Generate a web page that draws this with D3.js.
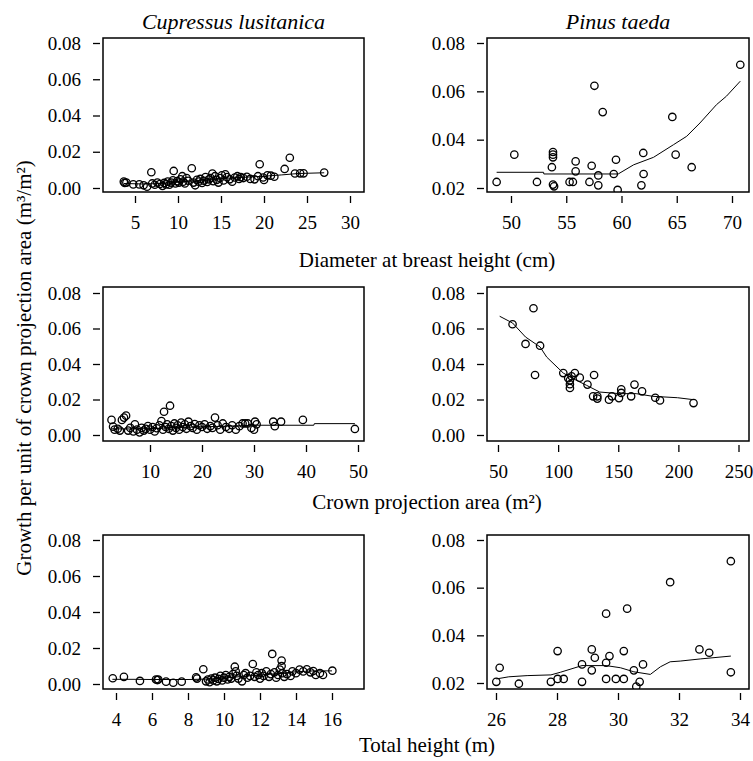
<!DOCTYPE html>
<html>
<head>
<meta charset="utf-8">
<title>Growth per unit of crown projection area</title>
<script src="https://d3js.org/d3.v7.min.js"></script>
<style>
    body { margin: 0; background: #fff; }
    text { font-family: "Liberation Serif", "Times New Roman", serif; fill: #000; }
</style>
</head>
<body>
<div id="chart"></div>
<script>
    // Cupressus lusitanica - DBH (cm)
    var cupDbhX = [3.7,3.8,4.0,4.8,5.5,6.0,6.4,6.9,7.0,7.3,7.6,7.9,8.2,8.4,8.6,8.8,9.0,9.2,9.4,9.5,9.7,9.9,10.1,10.3,10.5,10.6,10.8,11.0,11.2,11.6,11.8,12.0,12.2,12.4,12.6,12.8,13.0,13.2,13.4,13.6,13.8,14.0,14.1,14.3,14.5,14.7,14.9,15.1,15.3,15.5,15.7,16.0,16.3,16.6,16.9,17.1,17.3,17.6,18.0,18.4,18.9,19.3,19.5,19.9,20.0,20.4,20.8,21.2,22.4,23.0,23.6,24.2,24.6,27.0];
    var cupDbhY = [0.0035,0.0028,0.0030,0.0020,0.0020,0.0015,0.0007,0.0087,0.0025,0.0018,0.0030,0.0022,0.0012,0.0028,0.0020,0.0035,0.0018,0.0030,0.0042,0.0094,0.0025,0.0038,0.0030,0.0048,0.0065,0.0035,0.0025,0.0055,0.0040,0.0109,0.0030,0.0015,0.0045,0.0035,0.0050,0.0028,0.0040,0.0060,0.0033,0.0048,0.0055,0.0080,0.0038,0.0065,0.0045,0.0030,0.0055,0.0070,0.0042,0.0075,0.0060,0.0048,0.0035,0.0058,0.0065,0.0050,0.0060,0.0055,0.0062,0.0050,0.0048,0.0065,0.0131,0.0058,0.0044,0.0070,0.0068,0.0062,0.0105,0.0167,0.0080,0.0081,0.0081,0.0085];
    var cupDbhFitX = [3.7,6,8,10,12,14,16,18,20,22,24,27];
    var cupDbhFitY = [0.0025,0.0022,0.0025,0.0032,0.0040,0.0048,0.0055,0.0060,0.0065,0.0072,0.0080,0.0084];

    // Pinus taeda - DBH (cm)
    var pinDbhX = [48.7,50.3,52.35,53.8,53.8,53.8,53.7,53.8,53.9,55.3,55.6,55.85,55.85,57.3,57.55,57.1,57.9,57.9,58.3,59.5,59.3,59.65,61.97,62.0,61.8,64.6,64.9,66.35,70.75];
    var pinDbhY = [0.0225,0.0338,0.0225,0.0349,0.0338,0.0327,0.0286,0.0214,0.0207,0.0225,0.0225,0.0310,0.0269,0.0292,0.0623,0.0225,0.0252,0.0211,0.0514,0.0317,0.0258,0.0192,0.0345,0.0258,0.0211,0.0494,0.0338,0.0286,0.0710];
    var pinDbhFitX = [48.7,52.95,52.97,59.7,61.1,62.9,64.7,65.9,67.1,68.6,69.5,70.75];
    var pinDbhFitY = [0.0265,0.0265,0.0258,0.0258,0.0296,0.0327,0.0379,0.0414,0.0469,0.0545,0.0580,0.0642];

    // Cupressus lusitanica - crown projection area (m2)
    var cupCpaX = [2.6,2.9,3.2,3.8,4.2,4.6,5.0,5.4,5.8,6.2,6.8,7.1,7.5,8.0,8.4,8.8,9.2,9.6,10.0,10.5,10.9,11.3,11.8,12.2,12.5,12.7,13.0,13.3,13.6,13.85,14.1,14.4,14.7,15.0,15.3,15.6,16.0,16.3,16.7,17.0,17.4,17.8,18.2,18.6,19.0,19.5,20.0,20.5,21.0,21.6,22.0,22.5,23.0,23.5,24.0,24.6,25.2,25.8,26.5,27.2,27.8,28.3,28.8,29.5,30.0,30.2,30.5,33.7,34.0,35.2,39.4,49.4];
    var cupCpaY = [0.0085,0.0047,0.0030,0.0035,0.0025,0.0085,0.0098,0.0109,0.0025,0.0040,0.0020,0.0060,0.0030,0.0015,0.0040,0.0025,0.0035,0.0050,0.0030,0.0045,0.0020,0.0038,0.0055,0.0079,0.0030,0.0131,0.0045,0.0060,0.0035,0.0165,0.0050,0.0025,0.0065,0.0040,0.0055,0.0030,0.0070,0.0045,0.0060,0.0035,0.0075,0.0050,0.0040,0.0062,0.0030,0.0055,0.0045,0.0060,0.0035,0.0050,0.0040,0.0098,0.0055,0.0030,0.0065,0.0045,0.0035,0.0055,0.0030,0.0050,0.0065,0.0065,0.0065,0.0040,0.0030,0.0075,0.0060,0.0075,0.0050,0.0075,0.0085,0.0034];
    var cupCpaFitX = [2.6,6,10,15,20,25,30,35,41.5,41.6,49.4];
    var cupCpaFitY = [0.0035,0.0034,0.0036,0.0042,0.0046,0.0050,0.0055,0.0055,0.0055,0.0064,0.0064];

    // Pinus taeda - crown projection area (m2)
    var pinCpaX = [79.5,62.1,72.9,85,80.8,104.3,113.9,111.2,118,109.8,109.8,109.8,108.4,124.4,129.9,129.1,132.6,132.6,142.3,144.8,150.6,152.5,152.5,160.7,163.5,169.8,180.8,184.7,212.6];
    var pinCpaY = [0.0714,0.0624,0.0513,0.0503,0.0338,0.0349,0.0349,0.0331,0.0323,0.0308,0.0286,0.0265,0.0320,0.0284,0.0338,0.0218,0.0218,0.0205,0.0199,0.0218,0.0208,0.0237,0.0257,0.0218,0.0284,0.0246,0.0210,0.0195,0.0180];
    var pinCpaFitX = [51.4,62.1,72.9,85,90.5,104.3,112.6,123.6,134.6,151.1,164.9,178.7,199.3,212.6];
    var pinCpaFitY = [0.0669,0.0631,0.0552,0.0496,0.0439,0.0349,0.0317,0.0280,0.0242,0.0233,0.0233,0.0218,0.0210,0.0199];

    // Cupressus lusitanica - total height (m)
    var cupHtX = [3.82,4.44,5.33,6.22,6.3,6.35,6.78,7.18,7.65,8.45,8.5,8.85,9.0,9.1,9.2,9.3,9.4,9.5,9.6,9.7,9.8,9.9,10.0,10.1,10.2,10.3,10.4,10.5,10.6,10.65,10.7,10.8,11.0,11.1,11.2,11.3,11.45,11.6,11.7,11.8,11.9,12.0,12.1,12.2,12.35,12.5,12.6,12.68,12.8,12.9,13.0,13.1,13.2,13.2,13.25,13.35,13.5,13.7,13.8,14.0,14.2,14.4,14.6,14.8,14.96,15.1,15.33,15.5,16.02];
    var cupHtY = [0.0032,0.0040,0.0017,0.0025,0.0022,0.0025,0.0013,0.0007,0.0013,0.0037,0.0030,0.0082,0.0015,0.0025,0.0010,0.0030,0.0020,0.0035,0.0015,0.0028,0.0045,0.0020,0.0035,0.0050,0.0025,0.0040,0.0030,0.0055,0.0096,0.0070,0.0045,0.0030,0.0015,0.0050,0.0060,0.0035,0.0045,0.0111,0.0040,0.0065,0.0050,0.0030,0.0060,0.0045,0.0070,0.0040,0.0055,0.0167,0.0065,0.0035,0.0050,0.0080,0.0130,0.0100,0.0060,0.0040,0.0055,0.0045,0.0070,0.0060,0.0080,0.0070,0.0082,0.0065,0.0072,0.0050,0.0060,0.0050,0.0074];
    var cupHtFitX = [3.8,5,6,7,8,9,10,11,12,13,14,15,16];
    var cupHtFitY = [0.0026,0.0026,0.0025,0.0025,0.0025,0.0027,0.0033,0.0042,0.0050,0.0058,0.0068,0.0073,0.0073];

    // Pinus taeda - total height (m)
    var pinHtX = [26.01,26.12,26.75,27.8,28.02,28.02,28.22,28.82,28.82,29.14,29.24,29.14,29.61,29.72,29.61,29.61,29.93,30.19,30.3,30.19,30.52,30.82,30.71,30.6,31.71,32.67,32.99,33.7,33.7];
    var pinHtY = [0.0205,0.0264,0.0197,0.0205,0.0334,0.0217,0.0217,0.0205,0.0278,0.0341,0.0306,0.0253,0.0491,0.0313,0.0285,0.0217,0.0217,0.0217,0.0512,0.0334,0.0253,0.0278,0.0205,0.0185,0.0623,0.0341,0.0327,0.0711,0.0245];
    var pinHtFitX = [26.01,26.42,27.02,27.8,28.11,28.82,29.61,30.08,30.52,31.06,31.39,31.71,32.04,32.7,33.7];
    var pinHtFitY = [0.0217,0.0226,0.0231,0.0234,0.0245,0.0273,0.0273,0.0264,0.0247,0.0236,0.0268,0.0289,0.0292,0.0301,0.0313];

    var yTicksFull = [0, 0.02, 0.04, 0.06, 0.08];
    var yTicksPine = [0.02, 0.04, 0.06, 0.08];
    var dbhTicksCup = [5, 10, 15, 20, 25, 30];
    var dbhTicksPin = [50, 55, 60, 65, 70];
    var cpaTicksCup = [10, 20, 30, 40, 50];
    var cpaTicksPin = [50, 100, 150, 200, 250];
    var htTicksCup = [4, 6, 8, 10, 12, 14, 16];
    var htTicksPin = [26, 28, 30, 32, 34];

    var speciesTitles = ["Cupressus lusitanica", "Pinus taeda"];
    var rowTitles = ["Diameter at breast height (cm)", "Crown projection area (m\u00b2)", "Total height (m)"];
    var yTitle = "Growth per unit of crown projection area (m\u00b3/m\u00b2)";

    var width = 753, height = 761;
    var colX = [[103, 364], [487, 749]];
    var rowY = [[38, 192], [287, 441], [535, 689]];
    var rowTitleY = [267, 509, 752];
    var serif = "'Liberation Serif', 'Times New Roman', serif";
    var tickFont = "19px";

    // panel setup: x domain/range taken from the first/last tick positions
    var panels = [
        {r: 0, c: 0, x: cupDbhX, y: cupDbhY, fx: cupDbhFitX, fy: cupDbhFitY, xt: dbhTicksCup, yt: yTicksFull, xd: [5, 30], xr: [135, 350], yd: [0, 0.08], yr: [188, 43]},
        {r: 0, c: 1, x: pinDbhX, y: pinDbhY, fx: pinDbhFitX, fy: pinDbhFitY, xt: dbhTicksPin, yt: yTicksPine, xd: [50, 70], xr: [511, 732], yd: [0.02, 0.08], yr: [188, 43]},
        {r: 1, c: 0, x: cupCpaX, y: cupCpaY, fx: cupCpaFitX, fy: cupCpaFitY, xt: cpaTicksCup, yt: yTicksFull, xd: [10, 50], xr: [150, 358], yd: [0, 0.08], yr: [435, 293]},
        {r: 1, c: 1, x: pinCpaX, y: pinCpaY, fx: pinCpaFitX, fy: pinCpaFitY, xt: cpaTicksPin, yt: yTicksFull, xd: [50, 250], xr: [498, 738.5], yd: [0, 0.08], yr: [435, 293]},
        {r: 2, c: 0, x: cupHtX, y: cupHtY, fx: cupHtFitX, fy: cupHtFitY, xt: htTicksCup, yt: yTicksFull, xd: [4, 16], xr: [116, 332], yd: [0, 0.08], yr: [684, 540]},
        {r: 2, c: 1, x: pinHtX, y: pinHtY, fx: pinHtFitX, fy: pinHtFitY, xt: htTicksPin, yt: yTicksPine, xd: [26, 34], xr: [496, 740], yd: [0.02, 0.08], yr: [683, 540]}
    ];

    var svg = d3.select("#chart").append("svg")
        .attr("width", width)
        .attr("height", height);

    var defs = svg.append("defs");

    function styleAxis(a) {
        a.attr("font-family", serif).attr("font-size", 19);
        a.select(".domain").remove();
        a.selectAll("line").attr("stroke", "#000").attr("stroke-width", 1.3);
        a.selectAll("text").style("font-family", serif).style("font-size", tickFont).attr("fill", "#000");
    }

    panels.forEach(function(p, i) {
        var x0 = colX[p.c][0], x1 = colX[p.c][1];
        var y0 = rowY[p.r][0], y1 = rowY[p.r][1];
        var xs = d3.scaleLinear().domain(p.xd).range(p.xr);
        var ys = d3.scaleLinear().domain(p.yd).range(p.yr);
        var g = svg.append("g");

        defs.append("clipPath").attr("id", "clip" + i)
            .append("rect").attr("x", x0).attr("y", y0).attr("width", x1 - x0).attr("height", y1 - y0);

        // ticks sit a little away from the box, like R's axis()
        var yAxis = d3.axisLeft(ys).tickValues(p.yt).tickSize(7).tickPadding(12).tickFormat(d3.format(".2f"));
        g.append("g").attr("transform", "translate(" + (x0 - 3) + ",0)").call(yAxis).call(styleAxis);

        var xAxis = d3.axisBottom(xs).tickValues(p.xt).tickSize(7).tickPadding(13).tickFormat(d3.format("d"));
        g.append("g").attr("transform", "translate(0," + (y1 + 4) + ")").call(xAxis).call(styleAxis);

        var plot = g.append("g").attr("clip-path", "url(#clip" + i + ")");

        var pts = p.x.map(function(v, k) { return [v, p.y[k]]; });
        plot.selectAll("circle").data(pts).enter().append("circle")
            .attr("cx", function(d) { return xs(d[0]); })
            .attr("cy", function(d) { return ys(d[1]); })
            .attr("r", 3.7)
            .attr("fill", "none")
            .attr("stroke", "#000")
            .attr("stroke-width", 1.3);

        var fit = p.fx.map(function(v, k) { return [v, p.fy[k]]; });
        plot.append("path").datum(fit)
            .attr("fill", "none")
            .attr("stroke", "#000")
            .attr("stroke-width", 1)
            .attr("d", d3.line().x(function(d) { return xs(d[0]); }).y(function(d) { return ys(d[1]); }));

        g.append("rect")
            .attr("x", x0).attr("y", y0)
            .attr("width", x1 - x0).attr("height", y1 - y0)
            .attr("fill", "none").attr("stroke", "#000").attr("stroke-width", 1.5);
    });

    // species titles
    svg.selectAll(".sp").data(speciesTitles).enter().append("text")
        .attr("x", function(d, i) { return (colX[i][0] + colX[i][1]) / 2; })
        .attr("y", 29)
        .attr("text-anchor", "middle")
        .style("font-family", serif)
        .style("font-size", "22px")
        .style("font-style", "italic")
        .text(function(d) { return d; });

    // x axis titles, one per row
    svg.selectAll(".xt").data(rowTitles).enter().append("text")
        .attr("x", 427)
        .attr("y", function(d, i) { return rowTitleY[i]; })
        .attr("text-anchor", "middle")
        .style("font-family", serif)
        .style("font-size", "21px")
        .text(function(d) { return d; });

    svg.append("text")
        .attr("transform", "translate(31,368) rotate(-90)")
        .attr("text-anchor", "middle")
        .style("font-family", serif)
        .style("font-size", "21px")
        .text(yTitle);
</script>
</body>
</html>
